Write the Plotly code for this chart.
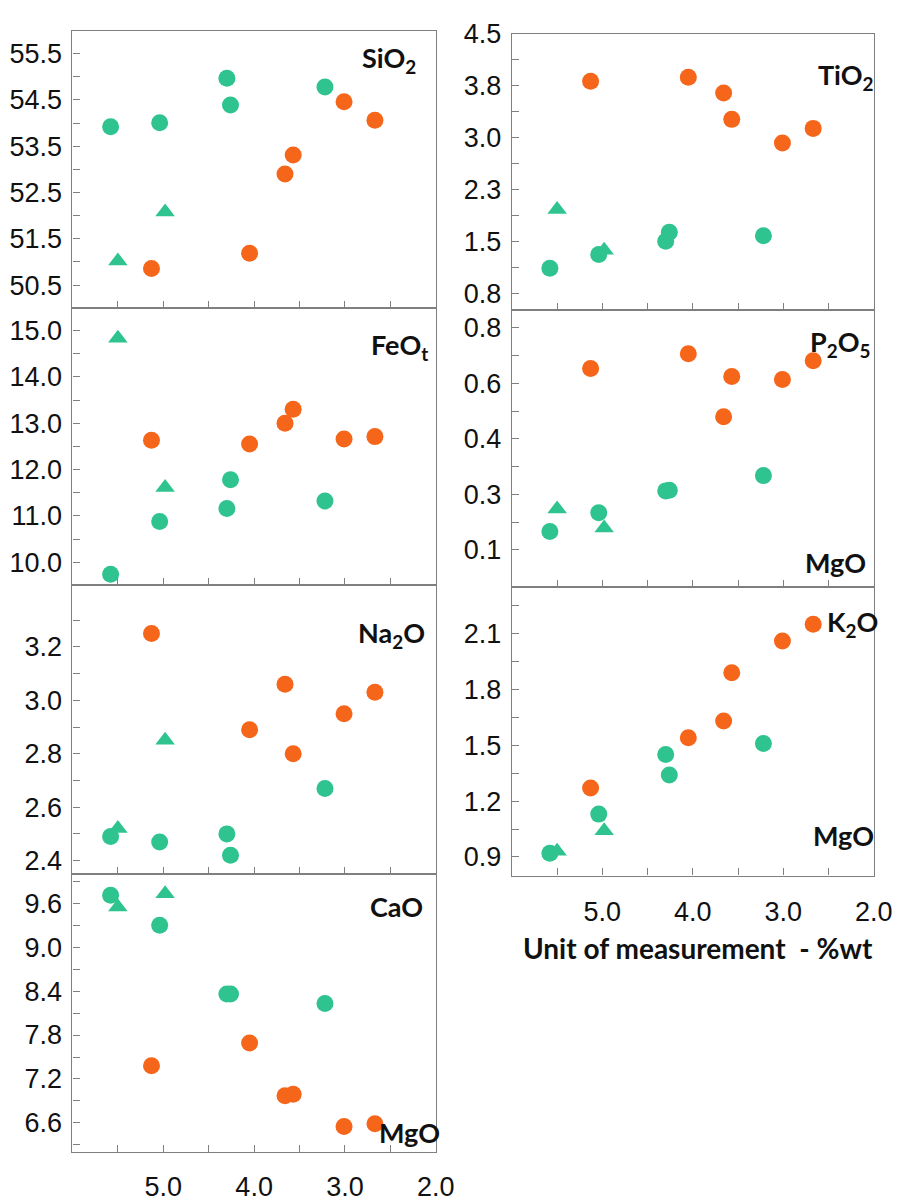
import plotly.graph_objects as go

# ---------------- data (MgO wt% on x) ----------------
mgo_green_circle = [5.58, 5.04, 4.30, 4.26, 3.22]
mgo_green_triangle = [5.50, 4.98]
mgo_orange = [5.13, 4.05, 3.66, 3.57, 3.01, 2.67]

sio2_gc = [53.92, 54.01, 54.97, 54.39, 54.78]
sio2_gt = [51.02, 52.08]
sio2_or = [50.86, 51.19, 52.90, 53.31, 54.46, 54.06]

tio2_gc = [1.11, 1.31, 1.50, 1.63, 1.58]
tio2_gt = [1.96, 1.37]
tio2_or = [3.81, 3.87, 3.64, 3.26, 2.92, 3.13]

feot_gc = [9.74, 10.88, 11.16, 11.78, 11.32]
feot_gt = [14.83, 11.61]
feot_or = [12.63, 12.55, 13.00, 13.30, 12.66, 12.71]

p2o5_gc = [0.173, 0.227, 0.290, 0.292, 0.334]
p2o5_gt = [0.238, 0.183]
p2o5_or = [0.643, 0.685, 0.504, 0.620, 0.611, 0.665]

na2o_gc = [2.49, 2.47, 2.50, 2.42, 2.67]
na2o_gt = [2.52, 2.85]
na2o_or = [3.25, 2.89, 3.06, 2.80, 2.95, 3.03]

k2o_gc = [0.92, 1.13, 1.45, 1.34, 1.51]
k2o_gt = [0.93, 1.04]
k2o_or = [1.27, 1.54, 1.63, 1.89, 2.06, 2.15]

cao_gc = [9.71, 9.30, 8.36, 8.36, 8.23]
cao_gt = [9.55, 9.73]
cao_or = [7.38, 7.69, 6.97, 6.99, 6.55, 6.59]

# tick values / labels
x_ticks = [5.0, 4.0, 3.0, 2.0]
x_minor = [5.5, 4.5, 3.5, 2.5]

sio2_ticks = [50.5, 51.5, 52.5, 53.5, 54.5, 55.5]
sio2_labels = ["50.5", "51.5", "52.5", "53.5", "54.5", "55.5"]
sio2_minor = [51, 52, 53, 54, 55]

tio2_ticks = [0.75, 1.5, 2.25, 3.0, 3.75, 4.5]
tio2_labels = ["0.8", "1.5", "2.3", "3.0", "3.8", "4.5"]
tio2_minor = [1.125, 1.875, 2.625, 3.375, 4.125]

feot_ticks = [10, 11, 12, 13, 14, 15]
feot_labels = ["10.0", "11.0", "12.0", "13.0", "14.0", "15.0"]
feot_minor = [10.5, 11.5, 12.5, 13.5, 14.5]

p2o5_ticks = [0.12, 0.28, 0.44, 0.60, 0.76]
p2o5_labels = ["0.1", "0.3", "0.4", "0.6", "0.8"]
p2o5_minor = [0.20, 0.36, 0.52, 0.68]

na2o_ticks = [2.4, 2.6, 2.8, 3.0, 3.2]
na2o_labels = ["2.4", "2.6", "2.8", "3.0", "3.2"]
na2o_minor = [2.5, 2.7, 2.9, 3.1, 3.3]

k2o_ticks = [0.9, 1.2, 1.5, 1.8, 2.1]
k2o_labels = ["0.9", "1.2", "1.5", "1.8", "2.1"]
k2o_minor = [1.05, 1.35, 1.65, 1.95, 2.25]

cao_ticks = [6.6, 7.2, 7.8, 8.4, 9.0, 9.6]
cao_labels = ["6.6", "7.2", "7.8", "8.4", "9.0", "9.6"]
cao_minor = [6.3, 6.9, 7.5, 8.1, 8.7, 9.3, 9.9]

# ---------------- layout helpers ----------------
W, H = 917, 1202
GREEN = "#2fc48f"
ORANGE = "#f5661a"
AX = "#7f7f7f"
TICKFONT = dict(family="Liberation Sans, Arial", size=27, color="#111111")
LABFONT = dict(family="Lato", size=27, color="#111111")
TITLEFONT = dict(family="Lato", size=28, color="#111111")


def fx(p):
    return p / W


def fy(p):
    return 1 - p / H


LEFT = (74, 445)
RIGHT = (522.7, 892.3)

panels = [
    dict(col=LEFT, top=16, bot=301, yr=[50, 56], gc=sio2_gc, gt=sio2_gt, orr=sio2_or,
         tv=sio2_ticks, tt=sio2_labels, mv=sio2_minor, xlab=False),
    dict(col=LEFT, top=301, bot=585.5, yr=[9.5, 15.48], gc=feot_gc, gt=feot_gt, orr=feot_or,
         tv=feot_ticks, tt=feot_labels, mv=feot_minor, xlab=False),
    dict(col=LEFT, top=585.5, bot=881.7, yr=[2.35, 3.43], gc=na2o_gc, gt=na2o_gt, orr=na2o_or,
         tv=na2o_ticks, tt=na2o_labels, mv=na2o_minor, xlab=False),
    dict(col=LEFT, top=881.7, bot=1167.3, yr=[6.2, 10.0], gc=cao_gc, gt=cao_gt, orr=cao_or,
         tv=cao_ticks, tt=cao_labels, mv=cao_minor, xlab=True, xstand=10),
    dict(col=RIGHT, top=19, bot=303.3, yr=[0.5, 4.5001], gc=tio2_gc, gt=tio2_gt, orr=tio2_or,
         tv=tio2_ticks, tt=tio2_labels, mv=tio2_minor, xlab=False),
    dict(col=RIGHT, top=303.3, bot=587.3, yr=[0.0125, 0.81], gc=p2o5_gc, gt=p2o5_gt, orr=p2o5_or,
         tv=p2o5_ticks, tt=p2o5_labels, mv=p2o5_minor, xlab=False),
    dict(col=RIGHT, top=587.3, bot=883.3, yr=[0.8, 2.35], gc=k2o_gc, gt=k2o_gt, orr=k2o_or,
         tv=k2o_ticks, tt=k2o_labels, mv=k2o_minor, xlab=True, xstand=12),
]

fig = go.Figure()
layout = {}
for i, p in enumerate(panels, start=1):
    xa = "x" if i == 1 else f"x{i}"
    ya = "y" if i == 1 else f"y{i}"
    fig.add_trace(go.Scatter(x=mgo_green_triangle, y=p["gt"], mode="markers", xaxis=xa, yaxis=ya,
                             marker=dict(symbol="triangle-up", size=17, color=GREEN, line=dict(width=0)),
                             showlegend=False, cliponaxis=False))
    fig.add_trace(go.Scatter(x=mgo_green_circle, y=p["gc"], mode="markers", xaxis=xa, yaxis=ya,
                             marker=dict(symbol="circle", size=17, color=GREEN, line=dict(width=0)),
                             showlegend=False, cliponaxis=False))
    fig.add_trace(go.Scatter(x=mgo_orange, y=p["orr"], mode="markers", xaxis=xa, yaxis=ya,
                             marker=dict(symbol="circle", size=17, color=ORANGE, line=dict(width=0)),
                             showlegend=False, cliponaxis=False))
    xkey = "xaxis" if i == 1 else f"xaxis{i}"
    ykey = "yaxis" if i == 1 else f"yaxis{i}"
    layout[xkey] = dict(
        domain=[fx(p["col"][0]), fx(p["col"][1])], anchor=ya, range=[6.0, 2.0],
        showline=True, linecolor=AX, linewidth=1.2, mirror=True,
        showgrid=False, zeroline=False,
        ticks="inside", ticklen=7, tickcolor=AX, tickwidth=1.2,
        tickmode="array", tickvals=x_ticks, ticktext=["%.1f" % v for v in x_ticks],
        showticklabels=p["xlab"], tickfont=TICKFONT,
        ticklabelstandoff=p.get("xstand", 0),
        minor=dict(tickmode="array", tickvals=x_minor, ticks="inside", ticklen=7,
                   tickcolor=AX, tickwidth=1.2),
    )
    layout[ykey] = dict(
        domain=[fy(p["bot"]), fy(p["top"])], anchor=xa, range=p["yr"],
        showline=True, linecolor=AX, linewidth=1.2, mirror=True,
        showgrid=False, zeroline=False,
        ticks="inside", ticklen=7, tickcolor=AX, tickwidth=1.2,
        tickmode="array", tickvals=p["tv"], ticktext=p["tt"],
        tickfont=TICKFONT, ticklabelstandoff=4,
        minor=dict(tickmode="array", tickvals=p["mv"], ticks="inside", ticklen=7,
                   tickcolor=AX, tickwidth=1.2),
    )

labels = [
    ("SiO<sub>2</sub>", 427, 46),
    ("FeO<sub>t</sub>", 439, 340),
    ("Na<sub>2</sub>O", 436, 636),
    ("CaO", 434, 915),
    ("MgO", 451, 1147),
    ("TiO<sub>2</sub>", 895, 63),
    ("P<sub>2</sub>O<sub>5</sub>", 890, 337),
    ("MgO", 886, 562),
    ("K<sub>2</sub>O", 899, 625),
    ("MgO", 895, 842),
]
annotations = []
for txt, xr, yc in labels:
    annotations.append(dict(text="<b>%s</b>" % txt, x=fx(xr), y=fy(yc), xref="paper", yref="paper",
                            xanchor="right", yanchor="middle", showarrow=False, font=LABFONT))
annotations.append(dict(text="<b>Unit of measurement  - %wt</b>", x=fx(713), y=fy(958),
                        xref="paper", yref="paper", xanchor="center", yanchor="middle",
                        showarrow=False, font=TITLEFONT))

fig.update_layout(
    width=W, height=H, margin=dict(l=0, r=0, t=0, b=0),
    paper_bgcolor="white", plot_bgcolor="white",
    showlegend=False, annotations=annotations, **layout,
)

fig.write_html("out.html")
